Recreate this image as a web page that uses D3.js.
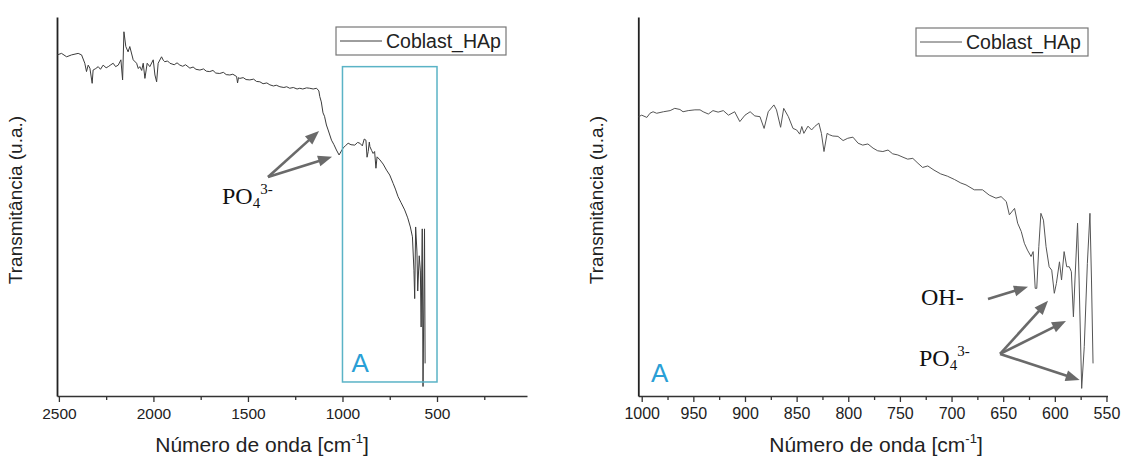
<!DOCTYPE html>
<html>
<head>
<meta charset="utf-8">
<script src="https://cdn.jsdelivr.net/npm/d3@7"></script>
<style>
  body { margin: 0; background: #fff; }
  svg { display: block; font-family: 'Liberation Sans', Arial, sans-serif; }
</style>
</head>
<body>
<svg id="chart" width="1124" height="457"></svg>
<script>
const seriesName = 'Coblast_HAp'
const yTitle = 'Transmitância (u.a.)'

// full spectrum, wavenumber (cm-1) and transmittance (arbitrary units)
const fullWave = [2509, 2486, 2459, 2433, 2398, 2380, 2363, 2354, 2345, 2336, 2324, 2319, 2305, 2292, 2280, 2266, 2250, 2239, 2225, 2213,
  2200, 2186, 2172, 2163, 2156, 2146, 2134, 2125, 2107, 2089, 2080, 2072, 2062, 2054, 2045, 2033, 2019, 2001, 1992, 1983,
  1975, 1957, 1948, 1940, 1925, 1913, 1890, 1875, 1860, 1845, 1830, 1807, 1790, 1775, 1754, 1735, 1720, 1702, 1685, 1670,
  1649, 1630, 1615, 1596, 1580, 1560, 1555, 1550, 1543, 1525, 1510, 1490, 1470, 1455, 1437, 1420, 1400, 1384, 1365, 1350,
  1331, 1310, 1295, 1279, 1260, 1240, 1226, 1210, 1190, 1173, 1155, 1137, 1125, 1120, 1112, 1103, 1095, 1085, 1076, 1058,
  1045, 1032, 1018, 997, 985, 970, 955, 935, 920, 908, 895, 885, 876, 870, 864, 858, 855, 846, 838, 830,
  823, 817, 802, 785, 767, 750, 732, 720, 706, 690, 671, 655, 641, 630, 622, 618, 613, 606, 602, 594,
  588, 584, 578, 574, 566, 563]
const fullT = [90.0, 90.4, 89.5, 90.0, 90.4, 90.0, 87.8, 85.6, 87.3, 86.5, 82.5, 86.0, 86.4, 86.9, 86.2, 87.3, 86.6, 86.9, 87.4, 87.8,
  86.9, 87.3, 88.7, 83.4, 96.1, 92.2, 90.8, 92.2, 88.7, 87.8, 86.4, 86.9, 85.9, 87.8, 83.8, 87.8, 86.9, 88.7, 84.7, 82.9,
  87.8, 89.5, 88.6, 88.2, 88.4, 87.8, 87.4, 87.9, 87.3, 87.0, 87.4, 86.5, 86.8, 86.2, 86.0, 86.3, 85.7, 85.6, 85.9, 85.2,
  85.1, 85.4, 84.8, 84.7, 84.9, 84.3, 82.6, 84.0, 83.8, 84.0, 83.5, 83.4, 83.6, 83.0, 82.9, 82.4, 82.6, 82.1, 81.8, 82.0,
  81.6, 81.4, 81.6, 81.2, 81.4, 81.0, 81.2, 81.0, 81.3, 81.2, 81.0, 81.2, 80.5, 79.0, 77.6, 74.7, 73.8, 71.5, 70.2, 67.5,
  66.3, 64.9, 63.6, 65.4, 66.0, 66.7, 66.3, 66.2, 66.9, 66.7, 66.0, 67.8, 67.5, 63.0, 64.5, 67.0, 65.8, 64.8, 64.0, 64.5,
  60.1, 63.1, 62.3, 61.2, 59.6, 58.3, 56.1, 54.6, 52.6, 51.0, 49.1, 47.0, 44.6, 42.0, 33.2, 25.7, 44.6, 38.0, 27.7, 37.0,
  33.0, 18.2, 44.1, 2.5, 44.1, 8.6]

// region A, 1000 - 550 cm-1
const zoomWave = [1003, 1000, 995, 992, 989, 985.5, 979, 972.5, 968, 963, 960, 955, 948.5, 943.5, 940.5, 935.5, 931, 926, 921, 916,
  910, 905, 900, 895, 890.5, 885.5, 881.5, 877.5, 872, 869.5, 865.5, 862.5, 858, 853.5, 850, 847, 845, 843, 839, 835.5,
  832.5, 828.5, 826, 823.5, 820.5, 818, 815, 810, 805, 800.5, 795.5, 790.5, 786, 781, 776, 771.5, 766.5, 761.5, 757, 752,
  747, 742.5, 737.5, 732.5, 728, 723, 717, 710.5, 704, 697, 691, 686, 678, 670, 663.5, 657, 652, 647, 644, 639,
  636, 632.5, 629.5, 626.5, 623, 621, 619, 617.5, 615.5, 613.5, 611, 608.5, 605.5, 603, 600.5, 598.5, 595.5, 593.5, 591, 588.5,
  586, 584, 582, 580.5, 578, 576.5, 574, 571.5, 568.5, 566, 564.5, 563]
const zoomT = [73.7, 74.1, 73.5, 74.6, 75.0, 74.6, 75.0, 75.3, 75.9, 75.6, 75.0, 75.3, 75.5, 75.5, 75.0, 74.4, 75.3, 74.9, 75.3, 74.1,
  75.0, 72.4, 74.1, 75.0, 73.9, 73.7, 70.6, 75.0, 76.8, 75.5, 70.9, 75.9, 73.7, 70.6, 70.2, 69.1, 71.1, 69.3, 71.2, 70.2,
  71.1, 72.0, 69.3, 64.5, 69.3, 68.9, 68.6, 68.5, 67.4, 68.0, 68.3, 66.7, 66.2, 66.5, 65.4, 64.7, 64.5, 64.9, 63.9, 63.6,
  63.0, 62.5, 62.7, 61.4, 60.3, 60.7, 59.6, 58.6, 58.0, 57.1, 56.2, 55.7, 54.4, 54.4, 53.0, 52.2, 52.6, 51.3, 47.8, 49.5,
  45.6, 43.4, 40.3, 38.5, 36.8, 38.1, 28.4, 28.4, 39.4, 48.2, 46.4, 39.4, 34.1, 33.2, 27.1, 29.7, 35.4, 30.6, 38.1, 34.1,
  34.1, 32.8, 20.9, 30.6, 45.6, 30.6, 2.0, 13.0, 35.0, 48.2, 30.6, 8.6]

const fullTicks = [2500, 2000, 1500, 1000, 500]
const fullMinor = [2250, 1750, 1250, 750, 250]
const zoomTicks = [1000, 950, 900, 850, 800, 750, 700, 650, 600, 550]
const zoomMinor = [975, 925, 875, 825, 775, 725, 675, 625, 575]

// highlighted region on the full spectrum: [wave from, wave to, T low, T high]
const boxA = [1000, 500, 3.7, 86.9]

// arrows: [from wave, from T, to wave, to T]
const fullArrows = [[1394, 57.8, 1124, 69.9], [1394, 57.8, 1055, 63.1]]
const zoomOHArrow = [[664.7, 25.6, 626, 28.8]]
const zoomPOArrows = [[653, 11.1, 606.6, 25.1], [653, 11.1, 589.2, 19.8], [653, 11.1, 576, 4.2]]

const svg = d3.select('#chart')
const lineColor = '#3c3c3c'
const arrowColor = '#6a6a6a'

let drawArrow = function (g, x, y, a) {
  let x1 = x(a[0]), y1 = y(a[1]), x2 = x(a[2]), y2 = y(a[3])
  let ang = Math.atan2(y2 - y1, x2 - x1)
  let len = 14, half = 5.5
  let bx = x2 - len * Math.cos(ang), by = y2 - len * Math.sin(ang)
  g.append('line')
    .attr('x1', x1).attr('y1', y1)
    .attr('x2', bx + 2 * Math.cos(ang)).attr('y2', by + 2 * Math.sin(ang))
    .style('stroke', arrowColor)
    .style('stroke-width', 2.6)
  g.append('path')
    .attr('d', `M${x2},${y2}L${bx - half * Math.sin(ang)},${by + half * Math.cos(ang)}L${bx + half * Math.sin(ang)},${by - half * Math.cos(ang)}Z`)
    .style('fill', arrowColor)
}

let ionLabel = function (g, px, py, main, sub, sup) {
  let t = g.append('text')
    .attr('x', px).attr('y', py)
    .style('font-family', "'Liberation Serif', 'Times New Roman', serif")
    .style('font-size', '24px')
    .style('fill', '#111')
  t.append('tspan').text(main)
  if (sub) t.append('tspan').attr('dy', 4).style('font-size', '15px').text(sub)
  if (sup) t.append('tspan').attr('dy', sub ? -14 : -10).style('font-size', '15px').text(sup)
}

let drawPanel = function (cfg) {
  let x = d3.scaleLinear().domain(cfg.domain).range(cfg.xRange)
  let y = d3.scaleLinear().domain([0, 100]).range([396, 17])
  let g = svg.append('g')

  // minor ticks
  g.append('g')
    .attr('transform', 'translate(0,396)')
    .call(d3.axisBottom(x).tickValues(cfg.minor).tickSize(4).tickFormat(''))
    .call(a => a.select('.domain').remove())
    .call(a => a.selectAll('line').style('stroke', '#333').style('stroke-width', 1.3))
  let xAxis = g.append('g')
    .attr('transform', 'translate(0,396)')
    .call(d3.axisBottom(x).tickValues(cfg.ticks).tickSize(6).tickSizeOuter(0).tickPadding(6).tickFormat(d3.format('d')))
  xAxis.select('.domain').style('stroke', '#333').style('stroke-width', 1.6)
  xAxis.selectAll('line').style('stroke', '#333').style('stroke-width', 1.3)
  xAxis.selectAll('text')
    .style('font-family', "'Liberation Sans', Arial, sans-serif")
    .style('font-size', cfg.tickFont + 'px')
    .style('fill', '#222')

  g.append('g')
    .attr('transform', `translate(${cfg.xRange[0]},0)`)
    .call(d3.axisLeft(y).tickValues([]).tickSizeOuter(0))
    .select('.domain').style('stroke', '#222').style('stroke-width', 1.8)

  // spectrum
  let pts = cfg.waves.map((w, i) => [w, cfg.values[i]])
  g.append('path')
    .datum(pts)
    .style('fill', 'none')
    .style('stroke', cfg.stroke)
    .style('stroke-width', 1)
    .style('stroke-linejoin', 'round')
    .attr('d', d3.line().x(d => x(d[0])).y(d => y(d[1])))

  // axis titles
  let title = g.append('text')
    .attr('x', cfg.titleX).attr('y', 452)
    .attr('text-anchor', 'middle')
    .style('font-size', '21px')
    .style('fill', '#222')
  title.append('tspan').text('Número de onda [cm')
  title.append('tspan').attr('dy', -9).style('font-size', '13px').text('-1')
  title.append('tspan').attr('dy', 9).text(']')

  g.append('text')
    .attr('transform', `translate(${cfg.yTitleX},200) rotate(-90)`)
    .attr('text-anchor', 'middle')
    .style('font-size', '19px')
    .style('fill', '#222')
    .text(yTitle)

  // legend
  let lg = g.append('g').attr('transform', `translate(${cfg.legend[0]},${cfg.legend[1]})`)
  lg.append('rect')
    .attr('width', cfg.legend[2]).attr('height', 28)
    .style('fill', '#fff')
    .style('stroke', '#777')
    .style('stroke-width', 1.2)
  lg.append('line')
    .attr('x1', 4).attr('x2', 46).attr('y1', 14).attr('y2', 14)
    .style('stroke', cfg.stroke).style('stroke-width', 1)
  lg.append('text')
    .attr('x', 50).attr('y', 21)
    .style('font-size', '19.5px')
    .style('fill', '#222')
    .text(seriesName)

  return {g, x, y}
}

// left: full spectrum
let left = drawPanel({
  domain: [2510, 24], xRange: [57, 527], ticks: fullTicks, minor: fullMinor, tickFont: 15.5,
  waves: fullWave, values: fullT, stroke: lineColor,
  titleX: 262, yTitleX: 22, legend: [336, 27, 170]
})
left.g.append('rect')
  .attr('x', left.x(boxA[0])).attr('y', left.y(boxA[3]))
  .attr('width', left.x(boxA[1]) - left.x(boxA[0]))
  .attr('height', left.y(boxA[2]) - left.y(boxA[3]))
  .style('fill', 'none')
  .style('stroke', '#5ab3c6')
  .style('stroke-width', 1.5)
left.g.append('text')
  .attr('x', left.x(boxA[0]) + 9).attr('y', 372)
  .style('font-size', '26px')
  .style('fill', '#2a9fd6')
  .text('A')
fullArrows.forEach(a => drawArrow(left.g, left.x, left.y, a))
ionLabel(left.g, 222, 204, 'PO', '4', '3-')

// right: region A
let right = drawPanel({
  domain: [1003.3, 549], xRange: [638.3, 1107.5], ticks: zoomTicks, minor: zoomMinor, tickFont: 16,
  waves: zoomWave, values: zoomT, stroke: '#555',
  titleX: 876, yTitleX: 603, legend: [916, 28, 172]
})
right.g.append('text')
  .attr('x', 651).attr('y', 382)
  .style('font-size', '26px')
  .style('fill', '#2a9fd6')
  .text('A')
zoomOHArrow.forEach(a => drawArrow(right.g, right.x, right.y, a))
zoomPOArrows.forEach(a => drawArrow(right.g, right.x, right.y, a))
ionLabel(right.g, 921, 305, 'OH-')
ionLabel(right.g, 919, 366, 'PO', '4', '3-')
</script>
</body>
</html>
